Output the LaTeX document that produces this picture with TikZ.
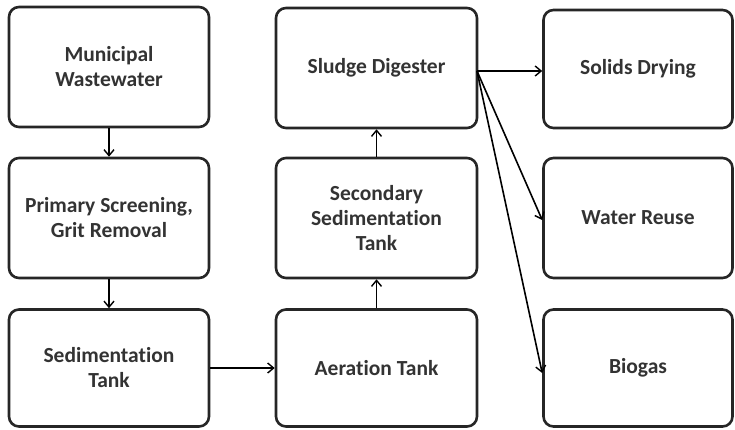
\documentclass[tikz,border=0pt]{standalone}
\usepackage{fontspec}
\setmainfont{Carlito}[Ligatures={NoCommon}]
\usetikzlibrary{arrows.meta}
\begin{document}
\begin{tikzpicture}[x=1pt,y=-1pt,
  box/.style={draw=black!85, line width=2.6pt, rounded corners=10pt, fill=white,
    inner sep=0pt, align=center, font=\fontsize{21.5}{25}\selectfont\bfseries, text=black!80},
  conn/.style={draw=black, line width=1.6pt, -{Straight Barb[length=6pt,width=10pt,line width=1.4pt]}}]
\useasboundingbox (0,0) rectangle (735,429);
\node[box, minimum width=200pt, minimum height=120pt] (mw) at (109,67) {Municipal\\Wastewater};
\node[box, minimum width=200pt, minimum height=120pt] (ps) at (109,218) {Primary Screening,\\Grit Removal};
\node[box, minimum width=200pt, minimum height=117pt] (st) at (109,368) {Sedimentation\\Tank};
\node[box, minimum width=201pt, minimum height=120pt] (sd) at (376.5,68) {Sludge Digester};
\node[box, minimum width=201pt, minimum height=120pt] (ss) at (376.5,218) {Secondary\\Sedimentation\\Tank};
\node[box, minimum width=201pt, minimum height=117pt] (at) at (376.5,368) {Aeration Tank};
\node[box, minimum width=189pt, minimum height=118pt] (sdr) at (638,69) {Solids Drying};
\node[box, minimum width=189pt, minimum height=120pt] (wr) at (638,218) {Water Reuse};
\node[box, minimum width=189pt, minimum height=117pt] (bg) at (638,368) {Biogas};
\coordinate (fan) at (477,71);
\draw[conn] (mw) -- (ps);
\draw[conn] (ps) -- (st);
\draw[conn] (st) -- (at);
\draw[conn] (at) -- (ss);
\draw[conn] (ss) -- (sd);
\draw[conn] (fan) -- (fan -| sdr.west);
\draw[conn] (fan) -- ([yshift=-2pt]wr.west);
\draw[conn] (fan) -- ([yshift=-5pt]bg.west);
\end{tikzpicture}
\end{document}
